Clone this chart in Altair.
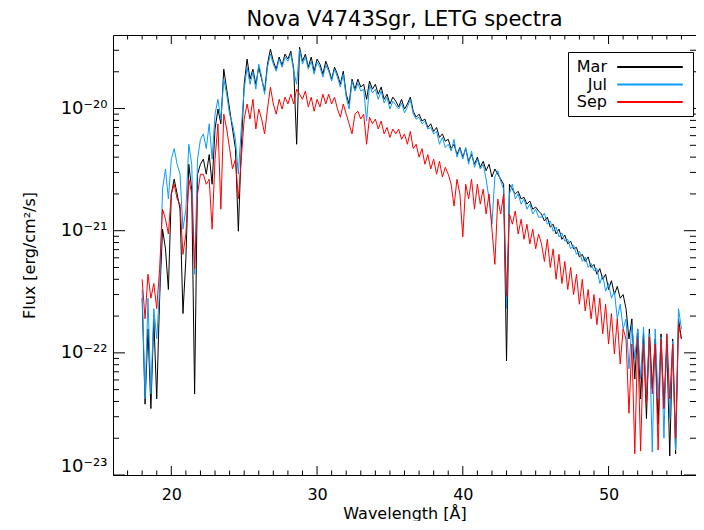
import altair as alt
import numpy as np
import pandas as pd

# wavelength grid of the spectra (Angstrom)
wavelength = np.round(np.arange(18.0, 55.0001, 0.2), 1)

series_names = ["Mar", "Jul", "Sep"]
series_colors = ["#000000", "#0a9bff", "#ff0000"]

# flux values in units of 1e-21 erg/cm2/s
mar = [
    0.28, 0.038, 0.157, 0.035, 0.19, 0.042, 0.28,
    1.03, 0.71, 0.33, 2.0, 2.64, 2.0, 1.5, 0.21,
    0.59, 3.5, 2.19, 0.046, 2.9, 3.5,
    3.85, 2.9, 4.2, 2.4, 6.8,
    9.9, 7.5, 21.0, 14.4, 9.9, 6.8, 4.7,
    0.99, 4.7, 15.8, 25.4, 17.4, 21.0, 15.8, 21.8,
    17.4, 13.9, 23.1, 30.6, 24.4, 21.0, 26.4, 22.6, 27.9, 25.4, 29.5, 21.0,
    5.1, 31.8, 24.4, 27.9, 21.8, 26.4, 20.2, 25.4, 23.1, 19.1, 24.4,
    21.0, 17.4, 21.8, 19.1, 15.8, 20.2, 13.1, 10.9, 17.4, 14.4,
    17.4, 15.0, 15.8, 11.9, 16.8, 14.4, 15.8, 13.1, 15.0, 11.9, 13.1, 10.9, 12.4, 11.5,
    10.3, 11.9, 9.9, 10.9, 12.4, 9.5, 8.5, 9.0, 7.9, 8.2, 7.0, 7.5, 6.5, 7.0, 5.8, 6.2, 5.4,
    5.6, 4.7, 5.1, 4.2, 4.8, 4.0, 4.7, 3.7, 4.2, 3.5, 4.0, 3.3, 3.7, 3.1, 3.5, 2.75, 3.2, 2.9, 2.64, 2.4,
    0.086,
    2.4, 2.19, 2.0, 2.1, 1.82, 1.88, 1.65, 1.75, 1.5, 1.56, 1.45,
    1.37, 1.2, 1.29, 1.07, 1.13, 0.94, 1.03, 0.85, 0.92, 0.78, 0.82, 0.71, 0.73, 0.61, 0.64,
    0.56, 0.61, 0.50, 0.53, 0.44, 0.49, 0.40, 0.44, 0.33, 0.39, 0.30, 0.35, 0.28, 0.30,
    0.23, 0.13, 0.19, 0.061, 0.157, 0.042, 0.143, 0.029, 0.157, 0.051,
    0.13, 0.026, 0.143, 0.035, 0.118, 0.0143, 0.13, 0.0149, 0.19, 0.13,
]

jul = [
    0.33, 0.042, 0.28, 0.046, 0.23, 0.13, 0.33,
    2.19, 3.2, 1.82, 3.85, 4.7, 3.5, 2.9, 1.03,
    1.5, 5.1, 3.5, 0.44, 3.85, 5.6,
    6.2, 4.7, 7.5, 3.85, 9.0,
    11.9, 8.2, 17.4, 13.1, 9.0, 7.5, 5.6,
    2.9, 6.8, 14.4, 21.8, 15.8, 19.9, 14.4, 23.1,
    18.1, 13.1, 21.8, 27.9, 23.1, 20.2, 25.4, 21.8, 26.4, 24.4, 27.9, 20.2,
    15.8, 30.6, 23.1, 26.4, 21.0, 24.4, 19.1, 24.0, 21.8, 18.1, 22.6,
    20.2, 16.8, 21.0, 18.1, 15.0, 19.1, 12.4, 9.9, 16.8, 13.9,
    16.1, 13.9, 14.4, 7.9, 15.6, 13.4, 14.4, 11.9, 13.9, 11.1, 12.4, 9.9, 11.5, 10.7,
    9.9, 11.1, 9.2, 10.3, 11.9, 9.0, 8.2, 8.5, 7.5, 7.9, 6.8, 7.0, 6.2, 6.5, 5.1, 5.8, 4.8,
    5.1, 4.5, 5.6, 4.0, 4.7, 3.85, 4.8, 3.5, 4.5, 3.3, 3.85, 3.2, 3.5, 2.64, 1.82, 1.13, 2.75, 3.1, 2.55, 2.19,
    0.23,
    2.0, 2.4, 1.82, 2.0, 1.65, 1.82, 1.5, 1.65, 1.37, 1.5, 1.29,
    1.29, 1.39, 1.13, 1.2, 0.99, 1.07, 0.89, 0.96, 0.82, 0.85, 0.71, 0.76, 0.64, 0.68, 0.56,
    0.61, 0.50, 0.54, 0.47, 0.49, 0.37, 0.43, 0.32, 0.37, 0.28, 0.32, 0.19, 0.25, 0.157,
    0.19, 0.074, 0.17, 0.089, 0.157, 0.061, 0.163, 0.046, 0.143, 0.0154,
    0.157, 0.042, 0.135, 0.020, 0.143, 0.029, 0.125, 0.016, 0.23, 0.157,
]

sep = [
    0.40, 0.19, 0.44, 0.28, 0.37, 0.23, 0.49,
    1.5, 1.24, 0.94, 2.0, 2.4, 1.82, 1.65, 0.64,
    0.94, 2.64, 2.0, 0.49, 2.0, 2.9,
    2.9, 2.4, 2.64, 1.03, 3.85,
    7.5, 1.5, 9.0, 6.8, 4.7, 3.2, 3.85,
    1.82, 3.85, 8.2, 10.9, 8.2, 11.9, 6.8, 9.9,
    8.2, 6.2, 9.9, 15.0, 10.9, 9.0, 11.9, 9.9, 12.4, 10.9, 13.1, 10.9,
    14.4, 13.1, 11.9, 13.9, 10.3, 12.4, 9.5, 11.9, 10.3, 13.1, 10.9,
    13.1, 10.9, 12.4, 9.9, 8.5, 10.9, 9.0, 7.5, 6.2, 9.0,
    9.5, 8.2, 9.0, 5.1, 8.5, 7.5, 8.2, 6.8, 7.9, 6.2, 7.0, 5.8, 6.8, 6.2,
    6.8, 5.6, 6.2, 5.1, 6.5, 4.7, 5.1, 4.0, 4.7, 3.5, 4.2, 3.2, 3.85, 2.9, 3.7, 2.75, 3.3,
    2.9, 2.4, 1.59, 2.64, 2.0, 0.89, 2.4, 1.82, 2.64, 1.5, 2.4, 1.65, 2.19, 1.37, 2.0, 1.03, 0.53, 1.82, 1.37, 2.0,
    0.29,
    1.37, 1.13, 1.45, 0.94, 1.24, 0.85, 1.13, 0.78, 1.03, 0.71, 0.94,
    0.78, 0.56, 0.85, 0.50, 0.71, 0.40, 0.64, 0.37, 0.56, 0.33, 0.50, 0.30, 0.44, 0.25, 0.40,
    0.22, 0.33, 0.19, 0.30, 0.17, 0.28, 0.143, 0.25, 0.118, 0.21, 0.098, 0.19, 0.081, 0.157,
    0.13, 0.032, 0.118, 0.0149, 0.13, 0.0157, 0.118, 0.038, 0.135, 0.046,
    0.118, 0.016, 0.13, 0.035, 0.143, 0.042, 0.118, 0.020, 0.17, 0.13,
]

# axis ticks
x_major = [20, 30, 40, 50]
x_minor = [v for v in range(17, 56) if v % 10 != 0]
y_major = [1e-23, 1e-22, 1e-21, 1e-20]
y_minor = [m * 10.0 ** e for e in (-23, -22, -21, -20) for m in range(2, 10) if m * 10.0 ** e < 3.9e-20]

PLOT_W = 583
PLOT_H = 440
FONT = "DejaVu Sans"


def frame(name, vals):
    return pd.DataFrame({
        "wavelength": wavelength,
        "flux": np.array(vals, dtype=float) * 1e-21,
        "series": name,
    })


xs = alt.Scale(domain=[16, 56], nice=False, zero=False)
ys = alt.Scale(type="log", domain=[1e-23, 4e-20], nice=False)
cs = alt.Scale(domain=series_names, range=series_colors)

label_expr = ("datum.value > 5e-21 ? '10⁻²⁰' : datum.value > 5e-22 ? '10⁻²¹' : "
              "datum.value > 5e-23 ? '10⁻²²' : '10⁻²³'")

ax_x_main = alt.Axis(orient="bottom", values=x_major, ticks=False, grid=False,
                     labelFontSize=16, labelPadding=11, labelColor="black", labelFont=FONT,
                     title="Wavelength [Å]", titleFontSize=16, titleFontWeight="normal",
                     titleColor="black", titleFont=FONT, titleX=PLOT_W / 2, titleY=30,
                     titleBaseline="top", titleAlign="center",
                     domainColor="black", domainWidth=1)
ax_y_main = alt.Axis(orient="left", values=y_major, ticks=False, grid=False,
                     labelExpr=label_expr, labelFontSize=18, labelPadding=6, labelFlush=True,
                     labelColor="black", labelFont=FONT,
                     title="Flux [erg/cm²/s]", titleFontSize=16, titleFontWeight="normal",
                     titleColor="black", titleFont=FONT, titleX=-76, titleY=PLOT_H / 2,
                     titleAngle=270, titleBaseline="bottom", titleAlign="center",
                     domainColor="black", domainWidth=1)
ax_x_top = alt.Axis(orient="bottom", offset=-PLOT_H, values=x_major, labels=False, ticks=False,
                    domain=True, domainColor="black", domainWidth=1, grid=False, title=None)

legend = alt.Legend(
    title=None, orient="none", legendX=455, legendY=17,
    symbolType="M-4.1,0H4.1", symbolSize=256, symbolStrokeWidth=2,
    labelFontSize=16, labelFont=FONT, labelColor="black", labelAlign="right",
    labelOffset={"expr": "-52"}, symbolOffset=67,
    strokeColor="black", fillColor="white", padding=6, rowPadding=0.5,
)


def spectrum(vals, name, xaxis, yaxis, leg):
    return alt.Chart(frame(name, vals)).mark_line(strokeWidth=1, clip=True).encode(
        x=alt.X("wavelength:Q", scale=xs, axis=xaxis),
        y=alt.Y("flux:Q", scale=ys, axis=yaxis),
        color=alt.Color("series:N", scale=cs, legend=leg),
    )


def y_rule_ticks(values, x0, x1):
    return alt.Chart(pd.DataFrame({"tick": values})).mark_rule(color="black", strokeWidth=1).encode(
        y=alt.Y("tick:Q", scale=ys, axis=None),
        x=alt.value(x0), x2=alt.value(x1),
    )


def x_tick_marks(values, center, length):
    return alt.Chart(pd.DataFrame({"tick": values})).mark_tick(
        color="black", thickness=1, size=length, orient="vertical", opacity=1).encode(
        x=alt.X("tick:Q", scale=xs, axis=None),
        y=alt.value(center),
    )


def y_tick_marks(values, center, length):
    return alt.Chart(pd.DataFrame({"tick": values})).mark_tick(
        color="black", thickness=1, size=length, orient="horizontal", opacity=1).encode(
        y=alt.Y("tick:Q", scale=ys, axis=None),
        x=alt.value(center),
    )


chart = alt.layer(
    spectrum(mar, "Mar", ax_x_main, ax_y_main, legend),
    spectrum(jul, "Jul", None, None, None),
    spectrum(sep, "Sep", ax_x_top, None, None),
    # inward ticks: right, left, bottom, top
    y_rule_ticks(y_major, PLOT_W, PLOT_W - 12),
    y_rule_ticks(y_minor, PLOT_W, PLOT_W - 6),
    y_tick_marks(y_major, 6, 12),
    y_tick_marks(y_minor, 3, 6),
    x_tick_marks(x_major, PLOT_H - 4.5, 9),
    x_tick_marks(x_minor, PLOT_H - 2.25, 4.5),
    x_tick_marks(x_major, 4.5, 9),
    x_tick_marks(x_minor, 2.25, 4.5),
).resolve_axis(
    x="independent", y="independent"
).properties(
    width=PLOT_W,
    height=PLOT_H,
    autosize=alt.AutoSizeParams(type="none"),
    padding={"left": 105, "top": 27, "right": 0, "bottom": 46},
    title=alt.TitleParams(text="Nova V4743Sgr, LETG spectra", fontSize=21, fontWeight="normal",
                          font=FONT, color="black", anchor="middle", offset=5),
).configure(
    font=FONT
).configure_view(
    stroke=None
)

chart.save("out.html", embed_options={"renderer": "svg", "actions": False})
